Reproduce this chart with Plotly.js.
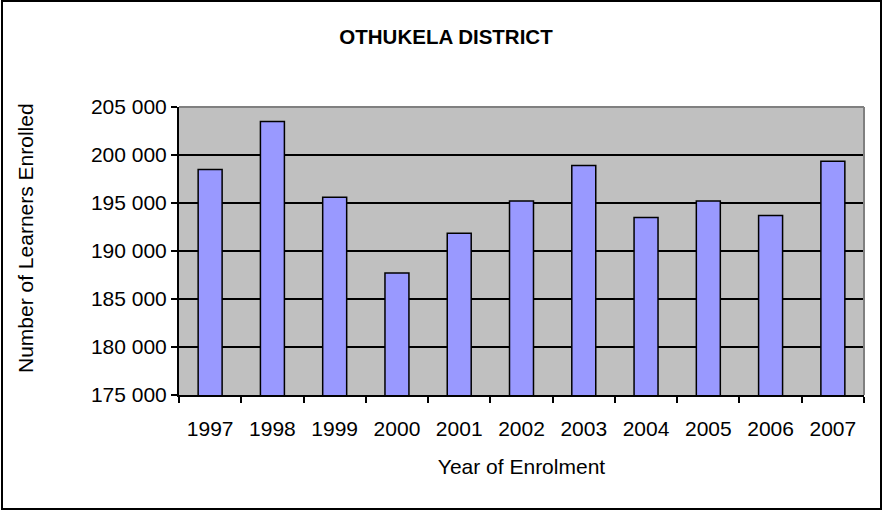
<!DOCTYPE html>
<html>
<head>
<meta charset="utf-8">
<script src="https://cdn.plot.ly/plotly-3.0.1.min.js"></script>
<style>
  html, body { margin: 0; padding: 0; background: #ffffff; }
  #wrap { position: relative; width: 882px; height: 510px; }
  #chart { width: 882px; height: 510px; }
  #frame { position: absolute; left: 1px; top: 0px; width: 877px; height: 506px; border: 2px solid #000; pointer-events: none; }
</style>
</head>
<body>
<div id="wrap">
  <div id="chart"></div>
  <div id="frame"></div>
</div>
<script>
const years = ['1997','1998','1999','2000','2001','2002','2003','2004','2005','2006','2007'];
const learners = [198500, 203500, 195600, 187700, 191850, 195200, 198900, 193500, 195200, 193700, 199350];
const chartTitle = 'OTHUKELA DISTRICT';
const xTitle = 'Year of Enrolment';
const yTitle = 'Number of Learners Enrolled';

const fontFamily = '"Liberation Sans", Arial, sans-serif';

const W = 882, H = 510;
const M = { l: 179, r: 18, t: 107, b: 115 };
const plotW = W - M.l - M.r, plotH = H - M.t - M.b;

const trace = {
  type: 'bar',
  x: years,
  y: learners,
  marker: { color: '#9999FF', line: { color: '#000000', width: 1.5 } },
  hoverinfo: 'x+y'
};

const layout = {
  width: W,
  height: H,
  margin: M,
  paper_bgcolor: '#FFFFFF',
  plot_bgcolor: '#C0C0C0',
  separators: '. ',
  showlegend: false,
  bargap: 0.615,
  font: { family: fontFamily, size: 21, color: '#000000' },
  title: {
    text: '<b>' + chartTitle + '</b>',
    font: { family: fontFamily, size: 20.5, color: '#000' },
    x: 446 / W, xanchor: 'center',
    y: 1 - 37 / H, yanchor: 'middle', yref: 'container'
  },
  xaxis: {
    type: 'category',
    showline: true, linecolor: '#000', linewidth: 2,
    ticks: 'outside', ticklen: 6, tickwidth: 2, tickcolor: '#000',
    tickson: 'boundaries',
    ticklabelstandoff: 14,
    showgrid: false,
    tickfont: { family: fontFamily, size: 21 },
    title: { text: xTitle, font: { family: fontFamily, size: 21 }, standoff: 20 },
    automargin: false,
    fixedrange: true
  },
  yaxis: {
    range: [175000, 205000],
    dtick: 5000,
    tick0: 175000,
    tickformat: ',d',
    showline: true, linecolor: '#000', linewidth: 2,
    ticks: 'outside', ticklen: 6, tickwidth: 2, tickcolor: '#000',
    showgrid: true, gridcolor: '#000', gridwidth: 1.5,
    zeroline: false,
    tickfont: { family: fontFamily, size: 21 },
    automargin: false,
    fixedrange: true
  },
  annotations: [
    {
      text: yTitle, textangle: -90, showarrow: false,
      xref: 'paper', yref: 'paper',
      x: (25 - M.l) / plotW, y: (H - M.b - 238) / plotH,
      xanchor: 'center', yanchor: 'middle',
      font: { family: fontFamily, size: 21, color: '#000' }
    }
  ],
  shapes: [
    { type: 'line', xref: 'paper', yref: 'paper', x0: 0, x1: 1, y0: 1, y1: 1, line: { color: '#808080', width: 2 }, layer: 'above' },
    { type: 'line', xref: 'paper', yref: 'paper', x0: 1, x1: 1, y0: 0, y1: 1, line: { color: '#808080', width: 2 }, layer: 'above' }
  ]
};

Plotly.newPlot('chart', [trace], layout, { displayModeBar: false, staticPlot: true });
</script>
</body>
</html>
